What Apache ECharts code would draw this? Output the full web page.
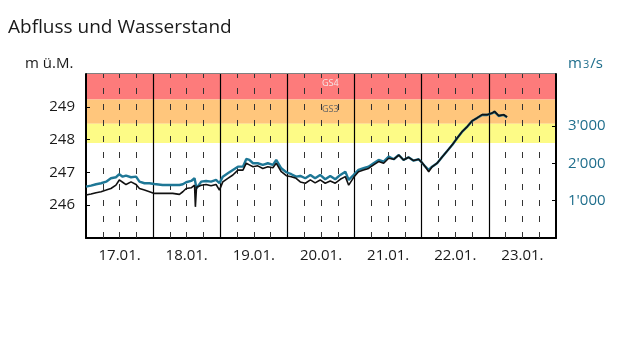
<!DOCTYPE html>
<html>
<head>
<meta charset="utf-8">
<script src="https://cdn.jsdelivr.net/npm/echarts@6/dist/echarts.min.js"></script>
<style>html,body{margin:0;padding:0;background:#fff}#c{width:640px;height:361px}</style>
</head>
<body>
<div id="c"></div>
<script>
// hours since 17.01. 00:00
const hours = [0,1.8,3.6,5.4,7.2,8.9,10.7,11.9,13.1,14.3,
  16.1,17.9,19.1,20.9,22.7,24.4,27.4,31.0,33.4,34.6,
  35.8,37.6,38.8,39.1,39.5,41.2,42.9,44.7,46.5,47.7,
  48.9,50.7,52.5,54.3,56.1,57.3,58.4,59.7,61.4,63.2,
  65.0,66.8,68.0,69.8,71.6,73.4,75.1,76.6,78.4,80.2,
  81.9,83.7,85.5,87.3,89.1,90.9,92.7,93.9,95.7,97.4,
  99.2,101.0,102.8,104.6,106.4,108.2,110.0,111.8,113.5,115.3,
  117.1,118.9,120.1,121.3,122.5,123.7,125.5,127.3,129.1,130.9,
  132.7,134.4,136.2,138.0,139.8,141.6,143.4,145.2,146.0,147.5,
  149.3,150.5];
// Wasserstand, m ü.M.
const waterLevel = [246.31,246.34,246.38,246.41,246.46,246.51,246.61,246.77,246.70,246.63,
  246.71,246.63,246.51,246.46,246.41,246.36,246.36,246.36,246.33,246.41,
  246.51,246.53,246.61,245.95,246.55,246.61,246.63,246.59,246.63,246.46,
  246.71,246.82,246.92,247.07,247.07,247.28,247.23,247.17,247.20,247.12,
  247.17,247.14,247.28,247.02,246.90,246.87,246.82,246.71,246.67,246.77,
  246.68,246.77,246.67,246.74,246.67,246.79,246.87,246.61,246.85,247.02,
  247.07,247.12,247.23,247.33,247.28,247.43,247.40,247.53,247.38,247.46,
  247.36,247.40,247.30,247.17,247.02,247.17,247.28,247.47,247.65,247.84,
  248.05,248.24,248.39,248.57,248.66,248.76,248.76,248.81,248.86,248.73,
  248.76,248.69];
// Abfluss, m3/s
const discharge = [1375,1401,1439,1466,1508,1600,1626,1707,1642,1669,
  1626,1642,1508,1466,1466,1447,1420,1420,1420,1439,
  1492,1527,1600,1642,1332,1508,1527,1508,1554,1466,
  1642,1733,1822,1910,1910,2116,2089,2001,2001,1956,
  2001,1956,2089,1867,1760,1707,1642,1661,1600,1688,
  1600,1688,1573,1661,1573,1688,1776,1554,1688,1822,
  1867,1910,2001,2089,2044,2178,2108,2223,2089,2162,
  2071,2108,2017,1910,1822,1910,2001,2170,2330,2491,
  2678,2839,2973,3133,3214,3294,3294,3340,3382,3267,
  3294,3232];
const dayLabels = ['17.01.','18.01.','19.01.','20.01.','21.01.','22.01.','23.01.'];
const dayLabelHours = [12,36,60,84,108,132,156];
const dayBoundaryHours = [24,48,72,96,120,144];
const sixHourMarks = [6,12,18,30,36,42,54,60,66,78,84,90,102,108,114,126,132,138,150,156,162];
const levelTicks = [246,247,248,249];
const flowTicks = [1000,2000,3000];
// Gefahrenstufen (m ü.M.)
const bands = [
  {name:'GS4', from:249.22, to:250, color:'#fd7b7b', text:'#f4e6e6'},
  {name:'GS3', from:248.48, to:249.22, color:'#ffc67c', text:'#666'},
  {name:'', from:247.90, to:248.48, color:'#fdfb86', text:'#666'}
];

const chart = echarts.init(document.getElementById('c'));
const font = 'Open Sans';
const teal = '#1f6e8c';
const fmtFlow = v => { const s = String(v); return s.length > 3 ? s.slice(0, -3) + "'" + s.slice(-3) : s; };

chart.setOption({
  animation: false,
  textStyle: {fontFamily: font},
  title: {text: 'Abfluss und Wasserstand', left: 8, top: 18, padding: 0,
    textStyle: {fontFamily: font, fontSize: 19, fontWeight: 'normal', color: '#1a1a1a'}},
  graphic: [
    {type: 'text', left: 25, top: 56, style: {text: 'm ü.M.', font: '15px "Open Sans"', fill: '#1a1a1a'}},
    {type: 'text', left: 568, top: 56, style: {text: '{a|m}{b|3}{a|/s}', font: '15px "Open Sans"',
      rich: {a: {fontSize: 15, fontFamily: font, color: teal}, b: {fontSize: 11, fontFamily: font, color: teal, padding: [3, 1, 0, 1]}}, fill: teal}}
  ],
  grid: {left: 86, right: 84, top: 74, bottom: 123, show: true, borderColor: '#000', borderWidth: 1},
  xAxis: {type: 'value', min: 0, max: 168, interval: 24,
    axisLine: {show: true, lineStyle: {color: '#000', width: 2}},
    axisTick: {show: false},
    axisLabel: {customValues: dayLabelHours, formatter: v => dayLabels[dayLabelHours.indexOf(v)] || '',
      color: '#1a1a1a', fontSize: 15, fontFamily: font, margin: 10},
    splitLine: {show: false}},
  yAxis: [
    {type: 'value', min: 245, max: 250, interval: 1,
      axisLine: {show: true, lineStyle: {color: '#000', width: 2}},
      axisTick: {show: true, inside: true, length: 4, customValues: levelTicks, lineStyle: {color: '#000'}},
      axisLabel: {customValues: levelTicks, color: '#1a1a1a', fontSize: 15, fontFamily: font, margin: 11},
      splitLine: {show: false}},
    {type: 'value', min: 0, max: 4390, position: 'right',
      axisLine: {show: true, lineStyle: {color: '#000', width: 2}},
      axisTick: {show: true, inside: true, length: 4, customValues: flowTicks, lineStyle: {color: '#000'}},
      axisLabel: {customValues: flowTicks, formatter: fmtFlow, color: teal, fontSize: 15, fontFamily: font, margin: 12},
      splitLine: {show: false}}
  ],
  series: [
    {type: 'line', yAxisIndex: 0, data: [], silent: true, z: 0,
      markArea: {silent: true, z: 0,
        data: bands.map(b => [
          {yAxis: b.from, itemStyle: {color: b.color},
            label: {show: !!b.name, formatter: b.name, position: [236, 5], color: b.text, fontSize: 9, fontFamily: font}},
          {yAxis: b.to}
        ])}},
    {type: 'line', yAxisIndex: 0, data: [], silent: true, z: 3,
      markLine: {silent: true, z: 3, symbol: 'none', animation: false, label: {show: false},
        data: sixHourMarks.map(h => ({xAxis: h, lineStyle: {color: '#333', width: 1, type: [6, 10]}}))
          .concat(dayBoundaryHours.map(h => ({xAxis: h, lineStyle: {color: '#000', width: 1.2, type: 'solid'}})))}},
    {name: 'Abfluss', type: 'line', yAxisIndex: 1, showSymbol: false, symbol: 'none',
      data: hours.map((h, i) => [h, discharge[i]]),
      lineStyle: {color: '#1e7796', width: 2.4}, z: 5},
    {name: 'Wasserstand', type: 'line', yAxisIndex: 0, showSymbol: false, symbol: 'none',
      data: hours.map((h, i) => [h, waterLevel[i]]),
      lineStyle: {color: '#111', width: 1.6}, z: 6}
  ]
});
</script>
</body>
</html>
